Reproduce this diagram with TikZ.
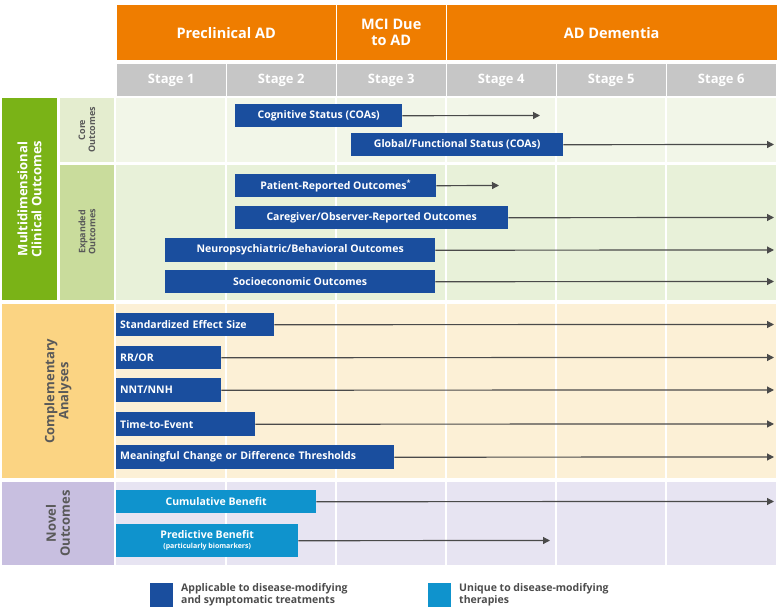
\documentclass[tikz,border=0pt]{standalone}
\usepackage{fontspec}
\setmainfont{Open Sans}
\usetikzlibrary{arrows.meta}
\definecolor{org}{HTML}{EF7D00}
\definecolor{gry}{HTML}{C6C6C6}
\definecolor{grn}{HTML}{7AB317}
\definecolor{coreL}{HTML}{E4EDCF}
\definecolor{expL}{HTML}{C9DC9C}
\definecolor{coreB}{HTML}{F2F6E8}
\definecolor{expB}{HTML}{E8F1D9}
\definecolor{yel}{HTML}{FBD483}
\definecolor{yelB}{HTML}{FCF0D6}
\definecolor{pur}{HTML}{C8BFE0}
\definecolor{purB}{HTML}{E7E4F2}
\definecolor{dblue}{HTML}{1A4E9E}
\definecolor{lblue}{HTML}{0F93CD}
\definecolor{arr}{HTML}{4A4A4A}
\tikzset{
  x=1pt,y=-1pt,
  bar/.style={fill=dblue,text=white,font=\bfseries\fontsize{10.5}{12}\selectfont,inner sep=0pt,anchor=north west,align=center},
  lbar/.style={bar,fill=lblue},
  ar/.style={draw=arr,line width=1.2pt,-{Triangle[length=7pt,width=7pt]}},
  hdr/.style={fill=org,text=white,font=\bfseries\fontsize{14.5}{16}\selectfont,align=center,inner sep=0pt,anchor=north west},
  stg/.style={fill=gry,text=white,font=\bfseries\fontsize{13}{15}\selectfont,inner sep=0pt,anchor=north west},
  vlab/.style={rotate=90,align=center,font=\bfseries\fontsize{13}{14}\selectfont,inner sep=0pt},
  slab/.style={rotate=90,align=center,font=\bfseries\fontsize{9}{10}\selectfont,inner sep=0pt,text=black!65},
  legt/.style={anchor=west,align=left,font=\bfseries\fontsize{10.5}{12}\selectfont,text=black!70,inner sep=0pt}
}
\begin{document}
\begin{tikzpicture}
\useasboundingbox (0,0) rectangle (780,609);
% headers
\node[hdr,minimum width=219pt,minimum height=55pt] (h1) at (116.5,5) {Preclinical AD};
\node[hdr,minimum width=109pt,minimum height=55pt] (h2) at (336.5,5) {MCI Due\\to AD};
\node[hdr,minimum width=330pt,minimum height=55pt] (h3) at (446.5,5) {AD Dementia};
\foreach \i in {1,...,6}{
  \node[stg,minimum width=109pt,minimum height=32pt] (s\i) at ({116.5+110*(\i-1)},64) {Stage \i};
}
% row backgrounds
\fill[coreB] (116,98) rectangle (776,162);
\fill[expB] (116,165) rectangle (776,300);
\fill[yelB] (116,304) rectangle (776,478);
\fill[purB] (116,482) rectangle (776,565);
\foreach \x in {226,336,446,556,666}{
  \draw[white,line width=1.5pt] (\x,98) -- (\x,565);
}
% left labels
\fill[grn] (2,98) rectangle (57,300);
\node[vlab,text=white] (lm) at (29.5,199) {Multidimensional\\Clinical Outcomes};
\fill[coreL] (60,98) rectangle (114,162);
\node[slab] (lc) at (87,130) {Core\\Outcomes};
\fill[expL] (60,165) rectangle (114,300);
\node[slab] (le) at (87,232) {Expanded\\Outcomes};
\fill[yel] (2,304) rectangle (114,478);
\node[vlab,text=black!65] (lca) at (58,391) {Complementary\\Analyses};
\fill[pur] (2,482) rectangle (114,565);
\node[vlab,text=black!65] (ln) at (58,523.5) {Novel\\Outcomes};
% bars
\newcommand{\mybar}[7]{%
  \node[#1,minimum width={#5-#3},minimum height={#6-#4}] (#2) at (#3,#4) {#7};}
\mybar{bar}{b1}{235}{104}{402}{127}{Cognitive Status (COAs)}
\draw[ar] (b1.east) -- (540,115.5);
\mybar{bar}{b2}{351}{133}{563}{156}{Global/Functional Status (COAs)}
\draw[ar] (b2.east) -- (774,144.5);
\mybar{bar}{b3}{235}{174}{436}{197}{Patient-Reported Outcomes\textsuperscript{*}}
\draw[ar] (b3.east) -- (499,185.5);
\mybar{bar}{b4}{235}{206}{508}{229}{Caregiver/Observer-Reported Outcomes}
\draw[ar] (b4.east) -- (774,217.5);
\mybar{bar}{b5}{165}{238}{435}{262}{Neuropsychiatric/Behavioral Outcomes}
\draw[ar] (b5.east) -- (774,250);
\mybar{bar}{b6}{165}{270}{435}{293}{Socioeconomic Outcomes}
\draw[ar] (b6.east) -- (774,281.5);
\node[bar,anchor=north west,minimum width=158pt,minimum height=23pt,align=left,text width=150pt,inner xsep=4pt] (c1) at (116,313) {Standardized Effect Size};
\draw[ar] (c1.east) -- (774,324.5);
\node[bar,anchor=north west,minimum width=105pt,minimum height=23pt,align=left,text width=97pt,inner xsep=4pt] (c2) at (116,346) {RR/OR};
\draw[ar] (c2.east) -- (774,357.5);
\node[bar,anchor=north west,minimum width=105pt,minimum height=24pt,align=left,text width=97pt,inner xsep=4pt] (c3) at (116,378) {NNT/NNH};
\draw[ar] (c3.east) -- (774,390);
\node[bar,anchor=north west,minimum width=139pt,minimum height=24pt,align=left,text width=131pt,inner xsep=4pt] (c4) at (116,412) {Time-to-Event};
\draw[ar] (c4.east) -- (774,424);
\node[bar,anchor=north west,minimum width=278pt,minimum height=24pt,align=left,text width=270pt,inner xsep=4pt] (c5) at (116,445) {Meaningful Change or Difference Thresholds};
\draw[ar] (c5.east) -- (774,457);
\mybar{lbar}{n1}{116}{490}{316}{513}{Cumulative Benefit}
\draw[ar] (n1.east) -- (774,501.5);
\mybar{lbar}{n2}{116}{524}{298}{557}{Predictive Benefit\\[-2pt]{\fontsize{7}{8}\selectfont (particularly biomarkers)}}
\draw[ar] (n2.east) -- (550,540.5);
% legend
\fill[dblue] (150,583) rectangle (173,607);
\node[legt] (lg1) at (181,595) {Applicable to disease-modifying\\and symptomatic treatments};
\fill[lblue] (428,583) rectangle (451,607);
\node[legt] (lg2) at (459,595) {Unique to disease-modifying\\therapies};
\end{tikzpicture}
\end{document}
